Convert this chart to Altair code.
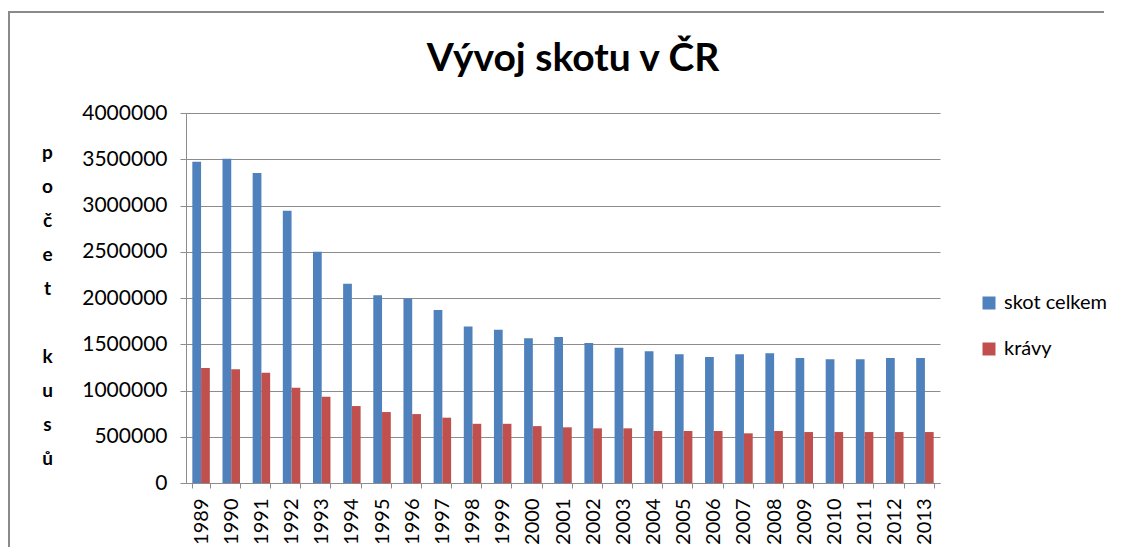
import altair as alt
import pandas as pd

years = [str(y) for y in range(1989, 2014)]
skot_celkem = [3474000, 3506000, 3352000, 2942000, 2499000, 2153000, 2031000, 1994000,
               1869000, 1692000, 1656000, 1566000, 1578000, 1514000, 1463000, 1423000,
               1391000, 1362000, 1391000, 1402000, 1351000, 1337000, 1337000, 1351000, 1351000]
kravy = [1242000, 1231000, 1192000, 1030000, 932000, 832000, 767000, 745000,
         706000, 640000, 640000, 615000, 602000, 591000, 591000, 562000,
         562000, 562000, 537000, 562000, 551000, 551000, 551000, 551000, 551000]
series = ["skot celkem", "krávy"]
colors = ["#4F81BD", "#C0504D"]
y_ticks = [0, 500000, 1000000, 1500000, 2000000, 2500000, 3000000, 3500000, 4000000]
y_title = ["p", "o", "č", "e", "t", "\u200b", "k", "u", "s", "ů"]

rows = []
for i, yr in enumerate(years):
    rows.append({"rok": yr, "serie": series[0], "hodnota": skot_celkem[i]})
    rows.append({"rok": yr, "serie": series[1], "hodnota": kravy[i]})
df = pd.DataFrame(rows)

FONT = "Lato"
GRID = "#8c8c8c"

bars = alt.Chart(df).mark_bar().encode(
    x=alt.X("rok:N", sort=years,
            scale=alt.Scale(paddingInner=0.42, paddingOuter=0.21),
            axis=alt.Axis(title=None, labelAngle=270, labelAlign="right",
                          labelBaseline="middle", labelPadding=10, labelFontSize=20,
                          labelColor="#000000", tickBand="extent", tickSize=5,
                          tickColor=GRID, domainColor=GRID, grid=False)),
    xOffset=alt.XOffset("serie:N", sort=series, scale=alt.Scale(paddingInner=0)),
    y=alt.Y("hodnota:Q",
            scale=alt.Scale(domain=[0, 4000000], nice=False),
            axis=alt.Axis(title=y_title, titleAngle=0, titleAlign="center",
                          titleBaseline="middle", titleX=-139, titleY=39,
                          titleLineHeight=34, titleFontSize=19, titleFontWeight="bold",
                          titleColor="#000000",
                          values=y_ticks, format="d", labelFontSize=21,
                          labelColor="#000000", labelPadding=13, tickSize=6,
                          tickColor=GRID, domainColor=GRID, gridColor=GRID,
                          gridWidth=1.2)),
    color=alt.Color("serie:N", sort=series,
                    scale=alt.Scale(domain=series, range=colors),
                    legend=alt.Legend(title=None, orient="none", legendX=793, legendY=180,
                                      symbolType="square", symbolSize=169,
                                      symbolStrokeWidth=0, labelFontSize=20,
                                      labelColor="#000000", labelOffset=5,
                                      rowPadding=26)),
)

frame_df = pd.DataFrame({"k": [0]})
frame_left = alt.Chart(frame_df).mark_rule(color="#8a8a8a", strokeWidth=2).encode(
    x=alt.value(-177), y=alt.value(-101), y2=alt.value(470))
frame_top = alt.Chart(frame_df).mark_rule(color="#8a8a8a", strokeWidth=2).encode(
    x=alt.value(-178), x2=alt.value(918), y=alt.value(-101))

chart = alt.layer(bars, frame_left, frame_top).properties(
    width=754, height=370,
    autosize=alt.AutoSizeParams(type="none"),
    padding={"left": 178, "top": 105, "right": 172, "bottom": 64},
    title=alt.TitleParams("Vývoj skotu v ČR", fontSize=39, fontWeight="bold",
                          font=FONT, color="#000000", anchor="middle",
                          frame="group", dx=10, offset=-99, baseline="alphabetic"),
).configure(font=FONT).configure_view(stroke=None).configure_axis(
    labelFont=FONT, titleFont=FONT).configure_legend(labelFont=FONT)

chart.save("out.html", embed_options={"renderer": "svg", "actions": False})
